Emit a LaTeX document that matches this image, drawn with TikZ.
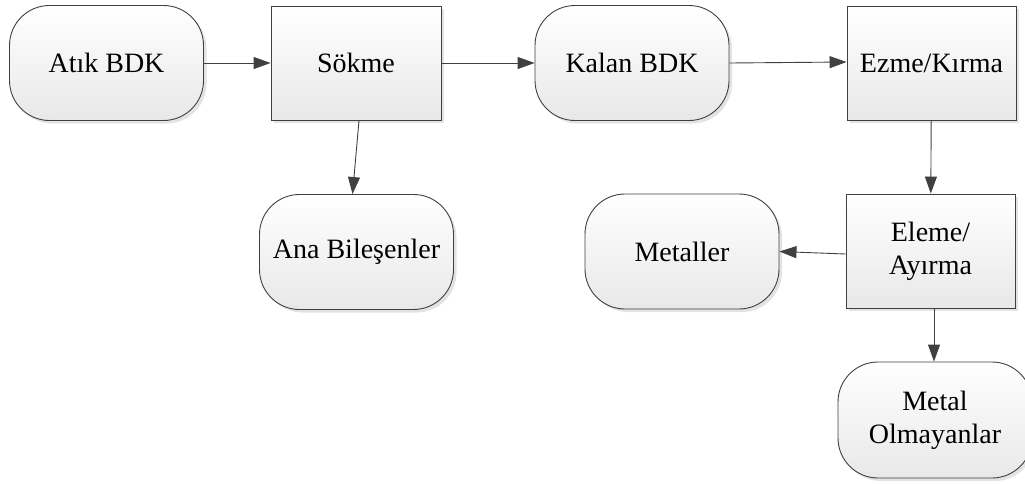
\documentclass[tikz,border=0pt]{standalone}
\usepackage{fontspec}
\setmainfont{Liberation Serif}
\usetikzlibrary{arrows.meta,shadows}
\begin{document}
\begin{tikzpicture}[x=1pt,y=-1pt,
  box/.style={draw=black!75, line width=0.9pt, top color=white, bottom color=black!9,
    drop shadow={shadow xshift=3pt, shadow yshift=-3pt, fill=black!18, opacity=0.6},
    font=\fontsize{28}{33}\selectfont, align=center, inner sep=2pt},
  stepbox/.style={box, rectangle, minimum width=170pt, minimum height=114pt},
  endbox/.style={box, rectangle, rounded corners=40pt, minimum width=194pt, minimum height=115pt},
  flow/.style={draw=black!70, line width=0.9pt, -{Triangle[length=17pt,width=12pt]}, black!75}
]
\useasboundingbox (0,0) rectangle (1025,483);

\node[endbox]  (atik)  at (106.5,63)  {Atık BDK};
\node[stepbox] (sokme) at (356,63)    {Sökme};
\node[endbox]  (kalan) at (632,63)    {Kalan BDK};
\node[stepbox, minimum width=169pt] (ezme) at (931.5,63) {Ezme/Kırma};
\node[endbox]  (ana)   at (356.5,252) {Ana Bileşenler};
\node[endbox]  (metal) at (682,251.5) {Metaller};
\node[stepbox, minimum width=169pt] (eleme) at (930.5,251) {Eleme/\\Ayırma};
\node[endbox, minimum height=116pt] (olm) at (935,420) {Metal\\Olmayanlar};

\draw[flow] (atik) -- (sokme);
\draw[flow] (sokme) -- (kalan);
\draw[flow] (kalan.east) -- ([yshift=1pt]ezme.west);
\draw[flow] ([xshift=3pt]sokme.south) -- ([xshift=-4pt]ana.north);
\draw[flow] (ezme) -- (eleme);
\draw[flow] ([yshift=-3pt]eleme.west) -- (metal.east);
\draw[flow] ([xshift=3.5pt]eleme.south) -- ([xshift=-1pt]olm.north);
\end{tikzpicture}
\end{document}
